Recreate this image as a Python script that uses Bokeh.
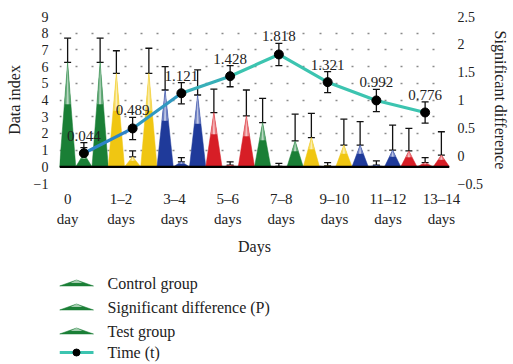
from bokeh.plotting import figure
from bokeh.layouts import column
from bokeh.models import (Range1d, LinearAxis, FixedTicker, ColumnDataSource,
                          Whisker, TeeHead, Span)
from bokeh.embed import file_html
from bokeh.resources import INLINE

# ---------------- data ----------------
categories = ["0\nday", "1\u20132\ndays", "3\u20134\ndays", "5\u20136\ndays",
              "7\u20138\ndays", "9\u201310\ndays", "11\u201312\ndays", "13\u201314\ndays"]
control = [6.25, 5.6, 4.6, 3.25, 2.65, 1.75, 1.3, 0.95]
control_err = [1.45, 1.35, 1.4, 1.4, 1.45, 1.45, 1.4, 1.35]
sig_p = [0.8, 0.6, 0.3, 0.1, 0.03, 0.05, 0.1, 0.25]
sig_p_err = [0.35, 0.35, 0.25, 0.2, 0.17, 0.2, 0.25, 0.3]
test = [6.25, 5.6, 4.3, 3.05, 1.55, 1.3, 1.0, 0.7]
test_err = [1.45, 1.5, 1.5, 1.55, 1.6, 1.55, 1.5, 1.4]
time_t = [0.044, 0.489, 1.121, 1.428, 1.818, 1.321, 0.992, 0.776]
time_err = [0.19, 0.2, 0.19, 0.19, 0.2, 0.19, 0.2, 0.19]
left_ticks = [-1, 0, 1, 2, 3, 4, 5, 6, 7, 8, 9]
right_ticks = [-0.5, 0, 0.5, 1, 1.5, 2, 2.5]
right_labels = ["\u22120.5", "0", "0.5", "1", "1.5", "2", "2.5"]
legend_labels = ["Control group", "Significant difference (P)", "Test group", "Time (t)"]

# ---------------- styles ----------------
FONT = "Liberation Serif"
dark = ["#1a7f36", "#f0c612", "#1f3a9a", "#d71e26"]
light = ["#62a877", "#f5da5e", "#6f80c2", "#e8757a"]
n_groups = len(categories)
series = [(control, control_err), (sig_p, sig_p_err), (test, test_err)]
n_series = len(series)
n_slots = n_groups * n_series

# ---------------- cone geometry (from data) ----------------
base_xs, base_ys, base_c = [], [], []
top_xs, top_ys, top_c = [], [], []
hl_xs, hl_ys = [], []
wx, wlo, whi = [], [], []
for g in range(n_groups):
    for k, (vals, errs) in enumerate(series):
        x = g * n_series + k
        v = vals[g]
        h0 = 0.6 * v
        base_xs.append([x - 0.5, x, x + 0.5])
        base_ys.append([0, v, 0])
        base_c.append(dark[g % 4])
        top_xs.append([x - 0.2, x, x + 0.2])
        top_ys.append([h0, v, h0])
        top_c.append(light[g % 4])
        hl_xs.append([x - 0.07, x, x + 0.07])
        hl_ys.append([h0, 0.97 * v, h0])
        wx.append(x)
        wlo.append(v)
        whi.append(v + errs[g])

p = figure(width=513, height=265, x_range=Range1d(-0.5, n_slots - 0.5),
           y_range=Range1d(left_ticks[0], left_ticks[-1]),
           output_backend="svg", toolbar_location=None,
           min_border_left=59, min_border_right=64, min_border_top=16,
           min_border_bottom=82)
p.outline_line_color = None
p.background_fill_color = "white"
p.extra_y_ranges = {"right": Range1d(right_ticks[0], right_ticks[-1])}

# grid: dotted horizontal lines
p.xgrid.visible = False
p.ygrid.ticker = FixedTicker(ticks=left_ticks)
p.ygrid.grid_line_color = "#8a8a8a"
p.ygrid.grid_line_width = 1.6
p.ygrid.grid_line_dash = "2 14 2 14 2 14 2 15"

# axes
ry = LinearAxis(y_range_name="right", axis_label="Significant difference",
                ticker=FixedTicker(ticks=right_ticks))
p.add_layout(ry, "right")
for ax in [p.yaxis[0], p.xaxis[0], ry]:
    ax.axis_line_color = None
    ax.major_tick_line_color = None
    ax.minor_tick_line_color = None
    ax.major_tick_out = 0
    ax.major_tick_in = 0
    ax.minor_tick_out = 0
    ax.minor_tick_in = 0
    ax.major_label_text_font = FONT
    ax.axis_label_text_font = FONT
    ax.axis_label_text_font_style = "normal"
    ax.major_label_text_color = "#222222"
    ax.axis_label_text_color = "#222222"
    ax.axis_label_text_font_size = "16px"

yl = p.yaxis[0]
yl.ticker = FixedTicker(ticks=left_ticks)
yl.major_label_overrides = {t: (str(t) if t >= 0 else "\u2212" + str(-t)) for t in left_ticks}
yl.major_label_text_font_size = "14px"
yl.major_label_standoff = 11
yl.axis_label = "Data index"
yl.axis_label_standoff = 8

tick_pos = [i * (n_slots - 1) / (n_groups - 1) for i in range(n_groups)]
xa = p.xaxis[0]
xa.ticker = FixedTicker(ticks=tick_pos)
xa.major_label_overrides = {t: lab for t, lab in zip(tick_pos, categories)}
xa.major_label_text_font_size = "15px"
xa.major_label_text_line_height = 1.3
xa.major_label_standoff = 7
xa.axis_label = "Days"
xa.axis_label_standoff = 8

ry.major_label_overrides = {t: lab for t, lab in zip(right_ticks, right_labels)}
ry.major_label_text_font_size = "14px"
ry.major_label_standoff = 8
ry.axis_label_standoff = 6

# cones
p.patches(xs=base_xs, ys=base_ys, fill_color=base_c, line_color=base_c, line_width=0.5)
p.patches(xs=top_xs, ys=top_ys, fill_color=top_c, line_color=None)
p.patches(xs=hl_xs, ys=hl_ys, fill_color="white", fill_alpha=0.55, line_color=None)

# zero line
p.add_layout(Span(location=0, dimension="width", line_color="black", line_width=2.2))

# cone error bars
wsrc = ColumnDataSource(dict(x=wx, lo=wlo, hi=whi))
p.add_layout(Whisker(source=wsrc, base="x", lower="lo", upper="hi", dimension="height",
                     line_color="#111111", line_width=1.3,
                     upper_head=TeeHead(size=7, line_width=1.3, line_color="#111111"),
                     lower_head=TeeHead(size=7, line_width=1.3, line_color="#111111")))

# time line (gradient segments)
tx = [g * n_series + 1 for g in range(n_groups)]
c0 = (44, 132, 200)
c1 = (60, 196, 176)
seg_cols = []
for i in range(n_groups - 1):
    f = min(i / 3.0, 1.0)
    c = tuple(int(round(a + (b - a) * f)) for a, b in zip(c0, c1))
    seg_cols.append("#%02x%02x%02x" % c)
seg_src = ColumnDataSource(dict(x0=tx[:-1], y0=time_t[:-1], x1=tx[1:], y1=time_t[1:], c=seg_cols))
p.segment(x0="x0", y0="y0", x1="x1", y1="y1", line_color="c", line_width=3.2,
          line_cap="round", source=seg_src, y_range_name="right")

tsrc = ColumnDataSource(dict(x=tx, y=time_t, lo=[a - b for a, b in zip(time_t, time_err)],
                             hi=[a + b for a, b in zip(time_t, time_err)],
                             lab=["%.3f" % v for v in time_t]))
p.add_layout(Whisker(source=tsrc, base="x", lower="lo", upper="hi", dimension="height",
                     y_range_name="right", line_color="#111111", line_width=1.3,
                     upper_head=TeeHead(size=7, line_width=1.3, line_color="#111111"),
                     lower_head=TeeHead(size=7, line_width=1.3, line_color="#111111")))
p.scatter(x="x", y="y", source=tsrc, size=9, color="black", y_range_name="right")
p.text(x="x", y="hi", text="lab", source=tsrc, y_range_name="right",
       text_align="center", text_baseline="bottom", y_offset=-2,
       text_font={"value": FONT}, text_font_size="15px", text_color="#222222")

# ---------------- legend (separate strip below the chart) ----------------
# the strip's frame is aligned with the chart frame (59..449 px), so use pixel units
LH = 99
lg = figure(width=513, height=LH, x_range=Range1d(59, 449), y_range=Range1d(LH, 0),
            x_axis_type=None, y_axis_type=None, output_backend="svg",
            toolbar_location=None, min_border=0)
lg.outline_line_color = None
lg.xgrid.visible = False
lg.ygrid.visible = False
rows = [18, 42, 66, 87]
gx0, gx1, tx0 = 59, 93, 107
gm = (gx0 + gx1) / 2
cone_rows = rows[:3]
lg.patches(xs=[[gx0, gm, gx1] for _ in cone_rows],
           ys=[[r + 2.5, r - 3.5, r + 2.5] for r in cone_rows],
           fill_color=dark[0], line_color=dark[0], line_width=0.5)
lg.patches(xs=[[gm - 6, gm, gm + 6] for _ in cone_rows],
           ys=[[r - 0.5, r - 3.5, r - 0.5] for r in cone_rows],
           fill_color="white", fill_alpha=0.6, line_color=None)
lg.segment(x0=[gx0], y0=[rows[3]], x1=[gx1], y1=[rows[3]], line_color=seg_cols[-1],
           line_width=3)
lg.scatter(x=[gm], y=[rows[3]], size=7, color="black")
lg.text(x=[tx0] * len(rows), y=rows, text=legend_labels, text_align="left",
        text_baseline="middle", text_font={"value": FONT}, text_font_size="16px",
        text_color="#222222")

layout = column(p, lg, spacing=0)
open("out.html", "w").write(file_html(layout, INLINE))
